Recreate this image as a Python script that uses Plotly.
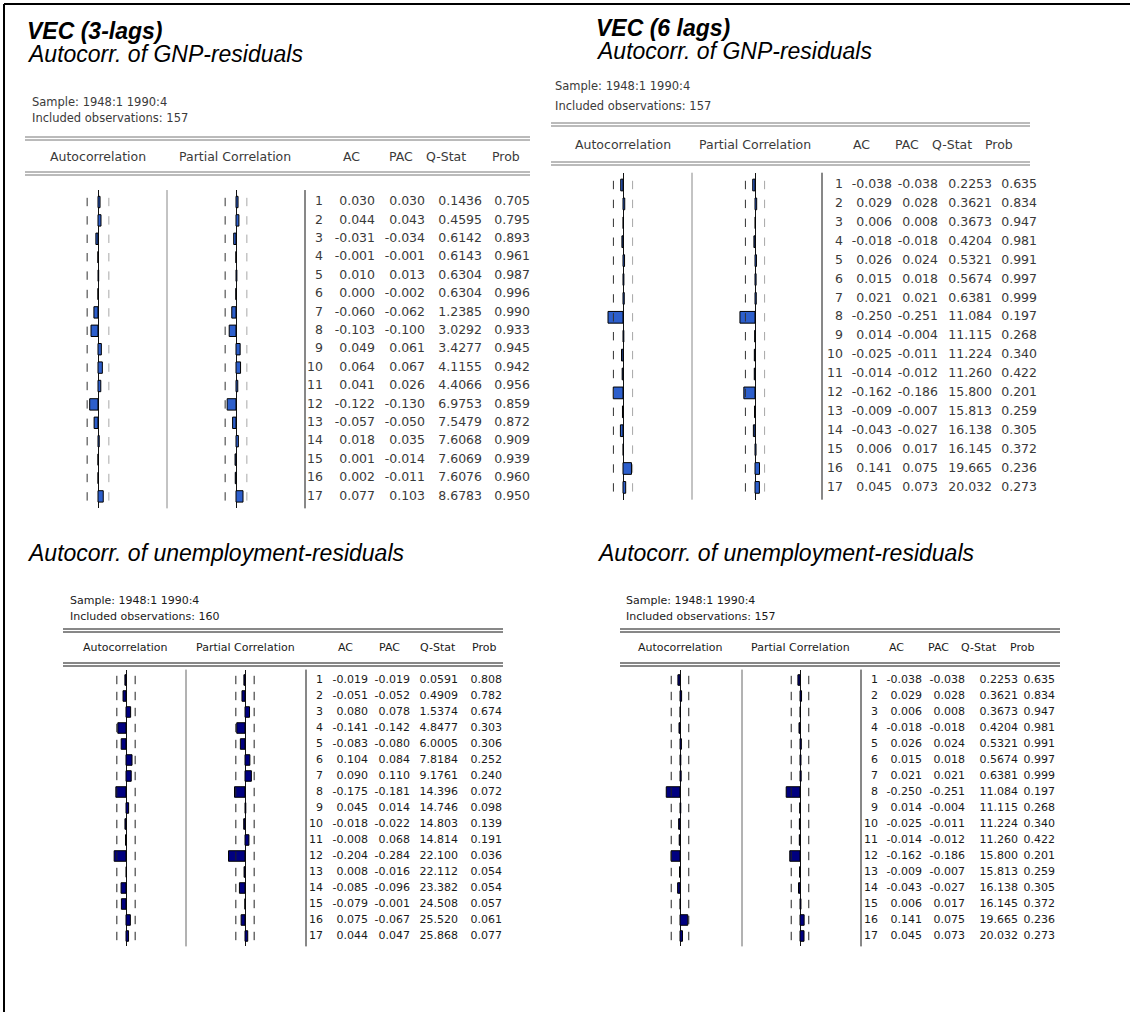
import math
import plotly.graph_objects as go

W, H = 1130, 1012

lags = list(range(1, 18))
sample_label = "Sample: 1948:1 1990:4"
header_labels = ["Autocorrelation", "Partial Correlation", "AC", "PAC", "Q-Stat", "Prob"]

# VEC (3 lags) - GNP residuals
v3_gnp_nobs = 157
v3_gnp_ac = [0.030, 0.044, -0.031, -0.001, 0.010, 0.000, -0.060, -0.103, 0.049, 0.064,
             0.041, -0.122, -0.057, 0.018, 0.001, 0.002, 0.077]
v3_gnp_pac = [0.030, 0.043, -0.034, -0.001, 0.013, -0.002, -0.062, -0.100, 0.061, 0.067,
              0.026, -0.130, -0.050, 0.035, -0.014, -0.011, 0.103]
v3_gnp_q = [0.1436, 0.4595, 0.6142, 0.6143, 0.6304, 0.6304, 1.2385, 3.0292, 3.4277, 4.1155,
            4.4066, 6.9753, 7.5479, 7.6068, 7.6069, 7.6076, 8.6783]
v3_gnp_prob = [0.705, 0.795, 0.893, 0.961, 0.987, 0.996, 0.990, 0.933, 0.945, 0.942,
               0.956, 0.859, 0.872, 0.909, 0.939, 0.960, 0.950]

# VEC (3 lags) - unemployment residuals
v3_unemp_nobs = 160
v3_unemp_ac = [-0.019, -0.051, 0.080, -0.141, -0.083, 0.104, 0.090, -0.175, 0.045, -0.018,
               -0.008, -0.204, 0.008, -0.085, -0.079, 0.075, 0.044]
v3_unemp_pac = [-0.019, -0.052, 0.078, -0.142, -0.080, 0.084, 0.110, -0.181, 0.014, -0.022,
                0.068, -0.284, -0.016, -0.096, -0.001, -0.067, 0.047]
v3_unemp_q = [0.0591, 0.4909, 1.5374, 4.8477, 6.0005, 7.8184, 9.1761, 14.396, 14.746, 14.803,
              14.814, 22.100, 22.112, 23.382, 24.508, 25.520, 25.868]
v3_unemp_prob = [0.808, 0.782, 0.674, 0.303, 0.306, 0.252, 0.240, 0.072, 0.098, 0.139,
                 0.191, 0.036, 0.054, 0.054, 0.057, 0.061, 0.077]

# VEC (6 lags) - residuals (shown in both right-hand tables)
v6_nobs = 157
v6_ac = [-0.038, 0.029, 0.006, -0.018, 0.026, 0.015, 0.021, -0.250, 0.014, -0.025,
         -0.014, -0.162, -0.009, -0.043, 0.006, 0.141, 0.045]
v6_pac = [-0.038, 0.028, 0.008, -0.018, 0.024, 0.018, 0.021, -0.251, -0.004, -0.011,
          -0.012, -0.186, -0.007, -0.027, 0.017, 0.075, 0.073]
v6_q = [0.2253, 0.3621, 0.3673, 0.4204, 0.5321, 0.5674, 0.6381, 11.084, 11.115, 11.224,
        11.260, 15.800, 15.813, 16.138, 16.145, 19.665, 20.032]
v6_prob = [0.635, 0.834, 0.947, 0.981, 0.991, 0.997, 0.999, 0.197, 0.268, 0.340,
           0.422, 0.201, 0.259, 0.305, 0.372, 0.236, 0.273]

SANS = "DejaVu Sans"
TITLE_FONT = "Liberation Sans"
TITLE_SIZE = 23

panels = [
    dict(title1="VEC (3-lags)", title2="Autocorr. of GNP-residuals", tx=25, t1y=31, t2y=54,
         ac=v3_gnp_ac, pac=v3_gnp_pac, q=v3_gnp_q, prob=v3_gnp_prob, nobs=v3_gnp_nobs,
         sx=30, sy=102, iy=118, info_size=11.5, lx0=25, lx1=530, l1=137, l2=172, hy=156,
         row1=202, sp=18.4, bw=0.62, scale=68, ac_zero=98, ac_dom=(30, 165), pac_zero=236, pac_dom=(170, 302),
         sep1=167, sep2=305, cols=(323, 375, 425, 482, 530),
         hx=(98, 235, 351, 401, 446, 506), fs=12.5, fc="#3a3a3a", bar="#2d5fcc",
         dl="#333333", dr="#a8a8a8", linec="#777777", sep1c="#888888"),
    dict(title1="VEC (6 lags)", title2="Autocorr. of GNP-residuals", tx=594, t1y=28, t2y=51,
         ac=v6_ac, pac=v6_pac, q=v6_q, prob=v6_prob, nobs=v6_nobs,
         sx=553, sy=86, iy=106, info_size=11.5, lx0=551, lx1=1030, l1=123, l2=162, hy=145,
         row1=185, sp=18.9, bw=0.62, scale=60, ac_zero=623, ac_dom=(575, 690), pac_zero=755, pac_dom=(695, 820),
         sep1=692, sep2=822, cols=(843, 892, 938, 992, 1037),
         hx=(623, 755, 861, 907, 952, 999), fs=12.5, fc="#3a3a3a", bar="#2d5fcc",
         dl="#333333", dr="#a8a8a8", linec="#777777", sep1c="#888888"),
    dict(title1=None, title2="Autocorr. of unemployment-residuals", tx=25, t1y=None, t2y=553,
         ac=v3_unemp_ac, pac=v3_unemp_pac, q=v3_unemp_q, prob=v3_unemp_prob, nobs=v3_unemp_nobs,
         sx=68, sy=600, iy=616, info_size=11, lx0=63, lx1=503, l1=629, l2=663, hy=647,
         row1=680, sp=16.0, bw=0.66, scale=58, ac_zero=126, ac_dom=(70, 184), pac_zero=245, pac_dom=(190, 303),
         sep1=186, sep2=306, cols=(323, 368, 410, 458, 502),
         hx=(125, 245, 345, 389, 438, 484), fs=11, fc="#1a1a1a", bar="#000080",
         dl="#222222", dr="#222222", linec="#111111", sep1c="#666666"),
    dict(title1=None, title2="Autocorr. of unemployment-residuals", tx=595, t1y=None, t2y=553,
         ac=v6_ac, pac=v6_pac, q=v6_q, prob=v6_prob, nobs=v6_nobs,
         sx=624, sy=600, iy=616, info_size=11, lx0=620, lx1=1060, l1=629, l2=663, hy=647,
         row1=680, sp=16.0, bw=0.66, scale=55, ac_zero=680, ac_dom=(625, 740), pac_zero=800, pac_dom=(746, 858),
         sep1=742, sep2=861, cols=(878, 922, 965, 1018, 1055),
         hx=(680, 800, 896, 938, 979, 1022), fs=11, fc="#1a1a1a", bar="#000080",
         dl="#222222", dr="#222222", linec="#111111", sep1c="#666666"),
]


def fx(x):
    return x / W


def fy(y):
    return 1 - y / H


def fmt_q(v):
    return f"{v:.4f}" if v < 10 else f"{v:.3f}"


fig = go.Figure()
layout_axes = {}
shapes = []
annotations = []
xi = 0
pad = 0.15

for pi, p in enumerate(panels, start=1):
    yname = "y" if pi == 1 else f"y{pi}"
    ykey = "yaxis" if pi == 1 else f"yaxis{pi}"
    top = p["row1"] - p["sp"] * (0.5 + pad)
    bot = p["row1"] + p["sp"] * (len(lags) - 1) + p["sp"] * (0.5 + pad)
    layout_axes[ykey] = dict(domain=[fy(bot), fy(top)], range=[len(lags) + 0.5 + pad, 0.5 - pad],
                             visible=False, fixedrange=True, anchor="free", position=0)
    bound = 2 / math.sqrt(p["nobs"])
    for vals, zero, dom in ((p["ac"], p["ac_zero"], p["ac_dom"]), (p["pac"], p["pac_zero"], p["pac_dom"])):
        xi += 1
        xname = "x" if xi == 1 else f"x{xi}"
        xkey = "xaxis" if xi == 1 else f"xaxis{xi}"
        layout_axes[xkey] = dict(domain=[fx(dom[0]), fx(dom[1])],
                                 range=[(dom[0] - zero) / p["scale"], (dom[1] - zero) / p["scale"]],
                                 anchor=yname, showgrid=False, zeroline=True, zerolinecolor="#111111",
                                 zerolinewidth=1, showticklabels=False, ticks="", showline=False,
                                 fixedrange=True)
        fig.add_trace(go.Bar(x=vals, y=lags, orientation="h", xaxis=xname, yaxis=yname, width=p["bw"],
                             marker=dict(color=p["bar"], line=dict(color="#000000", width=1)),
                             hoverinfo="skip"))
        fig.add_trace(go.Scatter(x=[-bound] * len(lags), y=lags, mode="markers", xaxis=xname, yaxis=yname,
                                 marker=dict(symbol="line-ns", size=6, line=dict(width=1, color=p["dl"])),
                                 hoverinfo="skip"))
        fig.add_trace(go.Scatter(x=[bound] * len(lags), y=lags, mode="markers", xaxis=xname, yaxis=yname,
                                 marker=dict(symbol="line-ns", size=6, line=dict(width=1, color=p["dr"])),
                                 hoverinfo="skip"))
    # text columns
    xi += 1
    xname = "x" if xi == 1 else f"x{xi}"
    xkey = "xaxis" if xi == 1 else f"xaxis{xi}"
    t0, t1 = p["sep2"], p["cols"][-1] + 10
    layout_axes[xkey] = dict(domain=[fx(t0), fx(t1)], range=[t0, t1], anchor=yname, visible=False,
                             fixedrange=True)
    columns = [
        [str(k) for k in lags],
        [f"{v:.3f}" for v in p["ac"]],
        [f"{v:.3f}" for v in p["pac"]],
        [fmt_q(v) for v in p["q"]],
        [f"{v:.3f}" for v in p["prob"]],
    ]
    for cx, texts in zip(p["cols"], columns):
        fig.add_trace(go.Scatter(x=[cx] * len(lags), y=lags, mode="text", text=texts,
                                 textposition="middle left", xaxis=xname, yaxis=yname,
                                 textfont=dict(family=SANS, size=p["fs"], color=p["fc"]),
                                 hoverinfo="skip"))

    # separators
    for sx_, col in ((p["sep1"], p["sep1c"]), (p["sep2"], "#111111")):
        shapes.append(dict(type="line", xref="paper", yref="paper", x0=fx(sx_), x1=fx(sx_),
                           y0=fy(top), y1=fy(bot), line=dict(color=col, width=1)))
    # double rules
    for ly in (p["l1"], p["l2"]):
        for off in (0, 3):
            shapes.append(dict(type="line", xref="paper", yref="paper", x0=fx(p["lx0"]), x1=fx(p["lx1"]),
                               y0=fy(ly + off), y1=fy(ly + off), line=dict(color=p["linec"], width=1)))
    # titles
    if p["title1"]:
        annotations.append(dict(text=f"<b><i>{p['title1']}</i></b>", x=fx(p["tx"]), y=fy(p["t1y"]),
                                xref="paper", yref="paper", xanchor="left", yanchor="middle",
                                showarrow=False, font=dict(family=TITLE_FONT, size=TITLE_SIZE, color="#000000")))
    annotations.append(dict(text=f"<i>{p['title2']}</i>", x=fx(p["tx"]), y=fy(p["t2y"]),
                            xref="paper", yref="paper", xanchor="left", yanchor="middle",
                            showarrow=False, font=dict(family=TITLE_FONT, size=TITLE_SIZE, color="#000000")))
    # sample info
    annotations.append(dict(text=sample_label, x=fx(p["sx"]), y=fy(p["sy"]), xref="paper", yref="paper",
                            xanchor="left", yanchor="middle", showarrow=False,
                            font=dict(family=SANS, size=p["info_size"], color=p["fc"])))
    annotations.append(dict(text=f"Included observations: {p['nobs']}", x=fx(p["sx"]), y=fy(p["iy"]),
                            xref="paper", yref="paper", xanchor="left", yanchor="middle", showarrow=False,
                            font=dict(family=SANS, size=p["info_size"], color=p["fc"])))
    # header
    for hx, lab in zip(p["hx"], header_labels):
        annotations.append(dict(text=lab, x=fx(hx), y=fy(p["hy"]), xref="paper", yref="paper",
                                xanchor="center", yanchor="middle", showarrow=False,
                                font=dict(family=SANS, size=p["fs"], color=p["fc"])))

# outer frame (top and left edges)
shapes.append(dict(type="line", xref="paper", yref="paper", x0=fx(4), x1=1, y0=fy(4), y1=fy(4),
                   line=dict(color="#000000", width=2)))
shapes.append(dict(type="line", xref="paper", yref="paper", x0=fx(4), x1=fx(4), y0=fy(4), y1=0,
                   line=dict(color="#000000", width=2)))

fig.update_layout(width=W, height=H, margin=dict(l=0, r=0, t=0, b=0), paper_bgcolor="white",
                  plot_bgcolor="rgba(0,0,0,0)", showlegend=False, bargap=0,
                  shapes=shapes, annotations=annotations, **layout_axes)

fig.write_html("out.html", config={"displayModeBar": False, "staticPlot": True},
               post_script="document.body.style.margin='0';document.body.style.padding='0';")
